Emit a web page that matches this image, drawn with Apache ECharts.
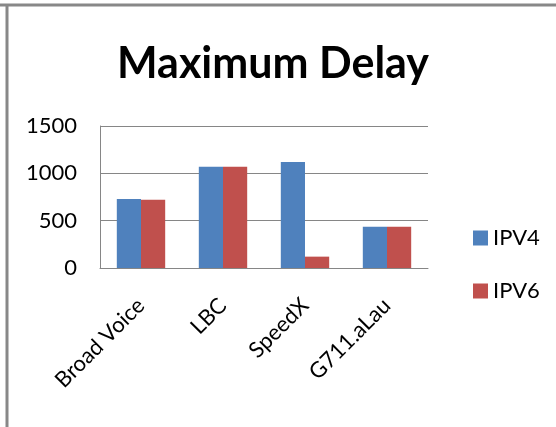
<!DOCTYPE html>
<html>
<head>
<meta charset="utf-8">
<script src="https://cdn.jsdelivr.net/npm/echarts@6/dist/echarts.min.js"></script>
<style>
	html, body { margin: 0; padding: 0; background: #fff; }
	#chart { width: 556px; height: 427px; }
</style>
</head>
<body>
<div id="chart"></div>
<script>
	// 图表数据
	var categories = ["Broad Voice", "LBC", "SpeedX", "G711.aLau"];
	var ipv4 = [730, 1070, 1120, 435];
	var ipv6 = [720, 1070, 120, 435];

	var chart = echarts.init(document.getElementById("chart"));
	var fontName = "Lato";
	var option = {
		backgroundColor: "#fff",
		animation: false,
		title: {
			text: "Maximum Delay",
			left: 112,
			top: 38,
			textStyle: {
				fontFamily: fontName,
				fontWeight: "bold",
				fontSize: 43,
				color: "#000"
			}
		},
		legend: {
			orient: "vertical",
			left: 468,
			top: 222,
			itemWidth: 15,
			itemHeight: 15,
			itemGap: 31,
			icon: "rect",
			textStyle: {
				fontFamily: fontName,
				fontSize: 22,
				color: "#000"
			},
			data: ["IPV4", "IPV6"]
		},
		grid: {
			left: 100,
			right: 128,
			top: 126,
			bottom: 159
		},
		xAxis: {
			type: "category",
			data: categories,
			axisLine: { lineStyle: { color: "#868686" } },
			axisTick: { show: false },
			axisLabel: {
				rotate: 45,
				interval: 0,
				margin: 34,
				fontFamily: fontName,
				fontSize: 22,
				color: "#000"
			}
		},
		yAxis: {
			type: "value",
			min: 0,
			max: 1500,
			interval: 500,
			axisLine: { show: true, lineStyle: { color: "#868686" } },
			axisTick: { show: false },
			splitLine: { lineStyle: { color: "#868686" } },
			axisLabel: {
				margin: 23,
				fontFamily: fontName,
				fontSize: 22,
				color: "#000",
				formatter: function(v) { return String(v); }
			}
		},
		graphic: [
			{ type: "line", shape: { x1: 0, y1: 5, x2: 556, y2: 5 }, style: { stroke: "#888", lineWidth: 3 } },
			{ type: "line", shape: { x1: 7, y1: 5, x2: 7, y2: 427 }, style: { stroke: "#888", lineWidth: 3 } }
		],
		series: [
			{
				name: "IPV4",
				type: "bar",
				data: ipv4,
				barGap: "0%",
				barCategoryGap: "41%",
				itemStyle: { color: "#4F81BD" }
			},
			{
				name: "IPV6",
				type: "bar",
				data: ipv6,
				barGap: "0%",
				barCategoryGap: "41%",
				itemStyle: { color: "#C0504D" }
			}
		]
	};
	chart.setOption(option);
	window.addEventListener("resize", function() {
		chart.resize();
	});
</script>
</body>
</html>
